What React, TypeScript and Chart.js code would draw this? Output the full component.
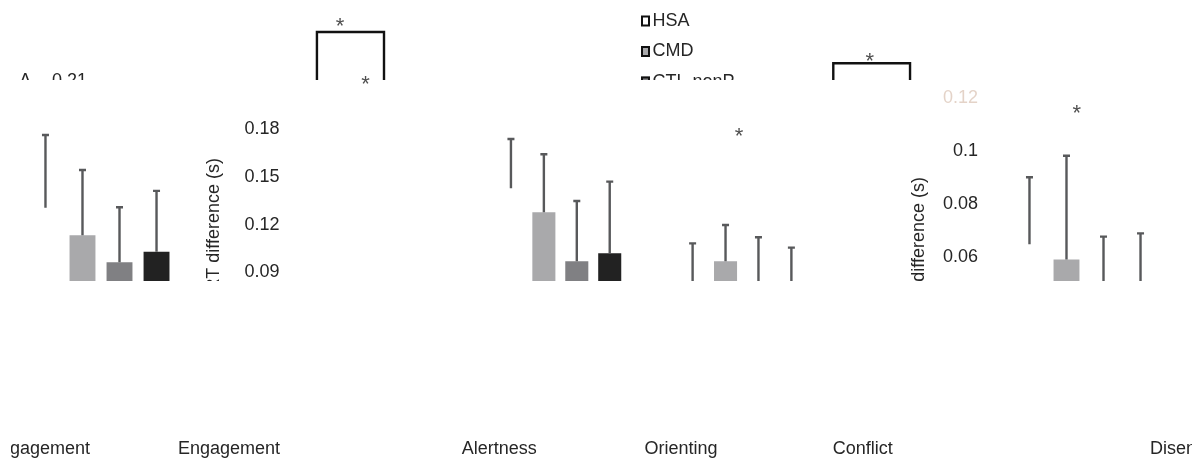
import React, { useEffect, useRef } from 'react';
import { Chart, registerables } from 'chart.js';

Chart.register(...registerables);

const FONT = "'Liberation Sans', Arial, Helvetica, sans-serif";
const TEXT = '#262626';
const FAINT = 'rgba(205,175,155,0.55)';
const ERR = '#58595b';
const STAR = '#505050';

// ---- groups (datasets) ----
const groupNames = ['HSA', 'CMD', 'CTL-nonP', 'CTL-P'];
const groupColors = ['#ffffff', '#a9a9ab', '#808083', '#222222'];

// ---- panel A (left): RT difference (s) ----
const leftCategories = ['Disengagement', 'Engagement'];
const leftHSA = [0.1307, null];
const leftHSASd = [0.0456, null];
const leftCMD = [0.1134, null];
const leftCMDSd = [0.0409, null];
const leftCTLn = [0.0964, null];
const leftCTLnSd = [0.0345, null];
const leftCTLp = [0.1031, null];
const leftCTLpSd = [0.0381, null];

// ---- panel B (middle) ----
const midCategories = ['Alertness', 'Orienting', 'Conflict'];
const midHSA = [0.1428, 0.074, null];
const midHSASd = [0.031, 0.0343, null];
const midCMD = [0.1278, 0.0971, null];
const midCMDSd = [0.0364, 0.0227, null];
const midCTLn = [0.0971, 0.072, null];
const midCTLnSd = [0.0378, 0.0401, null];
const midCTLp = [0.1021, 0.078, null];
const midCTLpSd = [0.0449, 0.0276, null];
const midTickValues = [0, 0.03, 0.06, 0.09, 0.12, 0.15, 0.18];

// ---- panel C (right) ----
const rightCategories = ['', 'Disengagement'];
const rightHSA = [0.0648, null];
const rightHSASd = [0.0253, null];
const rightCMD = [0.0591, null];
const rightCMDSd = [0.0391, null];
const rightCTLn = [0.045, null];
const rightCTLnSd = [0.0227, null];
const rightCTLp = [0.047, null];
const rightCTLpSd = [0.0219, null];
const rightTickValues = [0, 0.02, 0.04, 0.06, 0.08, 0.1, 0.12];
const rightFaintTicks = [0.12];

// ---- significance marks (category index, value) ----
const leftBrackets = [{ from: 1.069, to: 1.401, top: 0.2409, leg: 0.19 }];
const leftStars = [{ at: 1.183, value: 0.2484 }, { at: 1.31, value: 0.212 }];
const leftGhosts = [
  { text: '0.21', at: -0.069, value: 0.21, align: 'right' as CanvasTextAlign },
  { text: 'A', at: -0.375, value: 0.21, align: 'center' as CanvasTextAlign },
];
const midBrackets = [{ from: 1.5025, to: 1.925, top: 0.2213, leg: 0.19 }];
const midStars = [{ at: 1.704, value: 0.2265 }, { at: 0.983, value: 0.1794 }];
const rightStars = [{ at: -0.041, value: 0.1165 }];

// layout of the damaged source picture
const CUT_Y = 80;
const BAND_TOP = 281;
const BAND_BOTTOM = 437;
const LEGEND_X = 641;
const LEGEND_Y = 21;
const LEGEND_STEP = 30.5;

type Rect = { x: number; y: number; w: number; h: number };
type Bracket = { from: number; to: number; top: number; leg: number };
type Star = { at: number; value: number };
type Ghost = { text: string; at: number; value: number; align: CanvasTextAlign };
type DecorSpec = {
  brackets: Bracket[];
  stars: Star[];
  ghosts: Ghost[];
  legend: boolean;
  erase: Rect[];
};

function makeDecor(spec: DecorSpec) {
  return {
    id: 'decor',
    afterDatasetsDraw(chart: any) {
      const { ctx } = chart;
      const y = chart.scales.y;
      chart.data.datasets.forEach((ds: any, i: number) => {
        const meta = chart.getDatasetMeta(i);
        meta.data.forEach((bar: any, j: number) => {
          const m = ds.data[j];
          const s = ds.sd ? ds.sd[j] : null;
          if (m == null || s == null) return;
          const yTop = y.getPixelForValue(m + s);
          const yBase = y.getPixelForValue(m);
          ctx.save();
          ctx.strokeStyle = ERR;
          ctx.lineWidth = 2.4;
          ctx.beginPath();
          ctx.moveTo(bar.x, yBase);
          ctx.lineTo(bar.x, yTop);
          ctx.moveTo(bar.x - 3.5, yTop);
          ctx.lineTo(bar.x + 3.5, yTop);
          ctx.stroke();
          ctx.restore();
        });
      });
    },
    afterDraw(chart: any) {
      const { ctx } = chart;
      const x = chart.scales.x;
      const y = chart.scales.y;
      // erased parts of the source image
      ctx.save();
      ctx.fillStyle = '#ffffff';
      ctx.fillRect(0, BAND_TOP, chart.width, BAND_BOTTOM - BAND_TOP);
      spec.erase.forEach((r) => ctx.fillRect(r.x, r.y, r.w, r.h));
      ctx.restore();

      // upper band, cut at the glitch line
      ctx.save();
      ctx.beginPath();
      ctx.rect(0, 0, chart.width, CUT_Y);
      ctx.clip();
      spec.brackets.forEach((b) => {
        const x1 = x.getPixelForValue(b.from);
        const x2 = x.getPixelForValue(b.to);
        const yt = y.getPixelForValue(b.top);
        const yl = y.getPixelForValue(b.leg);
        ctx.strokeStyle = '#111111';
        ctx.lineWidth = 2.4;
        ctx.lineJoin = 'miter';
        ctx.beginPath();
        ctx.moveTo(x1, yl);
        ctx.lineTo(x1, yt);
        ctx.lineTo(x2, yt);
        ctx.lineTo(x2, yl);
        ctx.stroke();
      });
      spec.ghosts.forEach((g) => {
        ctx.fillStyle = TEXT;
        ctx.font = `18px ${FONT}`;
        ctx.textAlign = g.align;
        ctx.textBaseline = 'middle';
        ctx.fillText(g.text, x.getPixelForValue(g.at), y.getPixelForValue(g.value));
      });
      if (spec.legend) {
        chart.data.datasets.forEach((ds: any, i: number) => {
          const cy = LEGEND_Y + i * LEGEND_STEP;
          ctx.fillStyle = ds.backgroundColor;
          ctx.fillRect(LEGEND_X, cy - 5.5, 9, 11);
          ctx.strokeStyle = '#111111';
          ctx.lineWidth = 2;
          ctx.strokeRect(LEGEND_X + 1, cy - 4.5, 7, 9);
          ctx.fillStyle = TEXT;
          ctx.font = `18px ${FONT}`;
          ctx.textAlign = 'left';
          ctx.textBaseline = 'middle';
          ctx.fillText(ds.label, LEGEND_X + 11.5, cy);
        });
      }
      ctx.restore();

      // asterisks
      ctx.save();
      spec.stars.forEach((s) => {
        ctx.fillStyle = STAR;
        ctx.font = `22px ${FONT}`;
        ctx.textAlign = 'center';
        ctx.textBaseline = 'alphabetic';
        ctx.fillText('*', x.getPixelForValue(s.at), y.getPixelForValue(s.value) + 22 * 0.58);
      });
      ctx.restore();
    },
  };
}

function makeSets(values: (number | null)[][], sds: (number | null)[][], catPct: number) {
  return values.map((data, i) => ({
    label: groupNames[i],
    data,
    sd: sds[i],
    backgroundColor: groupColors[i],
    borderWidth: 0,
    categoryPercentage: catPct,
    barPercentage: 0.7,
  }));
}

const fmt = (v: number) => String(Math.round(v * 100) / 100);

function xAxis(labelOffset: number) {
  return {
    type: 'category',
    grid: { display: false, drawTicks: false },
    border: { display: false },
    ticks: {
      labelOffset,
      padding: 22,
      maxRotation: 0,
      minRotation: 0,
      autoSkip: false,
      color: TEXT,
      font: { family: FONT, size: 18 },
    },
    afterFit: (s: any) => {
      s.height = 43;
    },
  };
}

function yAxis(max: number, tickValues: number[], padding: number, width: number, faint: number[]) {
  return {
    min: 0,
    max,
    grid: { display: false, drawTicks: false },
    border: { display: false },
    afterBuildTicks: (s: any) => {
      s.ticks = tickValues.map((v) => ({ value: v }));
    },
    ticks: {
      padding,
      color: (c: any) => (c.tick && faint.includes(c.tick.value) ? FAINT : TEXT),
      font: { family: FONT, size: 18 },
      callback: (v: any) => fmt(Number(v)),
    },
    title: {
      display: true,
      text: 'RT difference (s)',
      color: TEXT,
      font: { family: FONT, size: 18 },
      padding: { top: 4, bottom: 4 },
    },
    afterFit: (s: any) => {
      s.width = width;
      s.paddingTop = 0;
      s.paddingBottom = 0;
    },
  };
}

export default function App() {
  const leftRef = useRef<HTMLCanvasElement>(null);
  const midRef = useRef<HTMLCanvasElement>(null);
  const rightRef = useRef<HTMLCanvasElement>(null);

  useEffect(() => {
    Chart.defaults.font.family = FONT;
    Chart.defaults.color = TEXT;
    const common = {
      responsive: false,
      animation: false,
      events: [],
      plugins: { legend: { display: false }, tooltip: { enabled: false } },
    };

    const left = new Chart(leftRef.current as HTMLCanvasElement, {
      type: 'bar',
      data: {
        labels: leftCategories,
        datasets: makeSets(
          [leftHSA, leftCMD, leftCTLn, leftCTLp],
          [leftHSASd, leftCMDSd, leftCTLnSd, leftCTLpSd],
          0.733
        ) as any,
      },
      options: {
        ...common,
        layout: { padding: { left: 0, right: 788, top: 33.4, bottom: 0 } },
        scales: {
          x: xAxis(-74) as any,
          y: { display: false, min: 0, max: 0.24 },
        },
      } as any,
      plugins: [
        makeDecor({
          brackets: leftBrackets,
          stars: leftStars,
          ghosts: leftGhosts,
          legend: false,
          erase: [{ x: 0, y: 437, w: 11, h: 22 }],
        }),
      ],
    });

    const mid = new Chart(midRef.current as HTMLCanvasElement, {
      type: 'bar',
      data: {
        labels: midCategories,
        datasets: makeSets(
          [midHSA, midCMD, midCTLn, midCTLp],
          [midHSASd, midCMDSd, midCTLnSd, midCTLpSd],
          0.725
        ) as any,
      },
      options: {
        ...common,
        layout: { padding: { left: 199.2, right: 177.5, top: 33.4, bottom: 0 } },
        scales: {
          x: xAxis(-61) as any,
          y: yAxis(0.24, midTickValues, 190, 270.3, []) as any,
        },
      } as any,
      plugins: [makeDecor({ brackets: midBrackets, stars: midStars, ghosts: [], legend: true, erase: [] })],
    });

    const right = new Chart(rightRef.current as HTMLCanvasElement, {
      type: 'bar',
      data: {
        labels: rightCategories,
        datasets: makeSets(
          [rightHSA, rightCMD, rightCTLn, rightCTLp],
          [rightHSASd, rightCMDSd, rightCTLnSd, rightCTLpSd],
          0.733
        ) as any,
      },
      options: {
        ...common,
        layout: { padding: { left: 904.2, right: 0, top: 71.5, bottom: 0 } },
        scales: {
          x: xAxis(-74) as any,
          y: yAxis(0.13, rightTickValues, 6, 79.8, rightFaintTicks) as any,
        },
      } as any,
      plugins: [makeDecor({ brackets: [], stars: rightStars, ghosts: [], legend: false, erase: [] })],
    });

    return () => {
      left.destroy();
      mid.destroy();
      right.destroy();
    };
  }, []);

  const cv: React.CSSProperties = { position: 'absolute', left: 0, top: 0, display: 'block' };
  return (
    <div
      style={{
        position: 'fixed',
        left: 0,
        top: 0,
        width: 1192,
        height: 459,
        overflow: 'hidden',
        background: '#ffffff',
      }}
    >
      <canvas ref={leftRef} width={1192} height={459} style={cv} />
      <canvas ref={midRef} width={1192} height={459} style={cv} />
      <canvas ref={rightRef} width={1388} height={459} style={cv} />
    </div>
  );
}
